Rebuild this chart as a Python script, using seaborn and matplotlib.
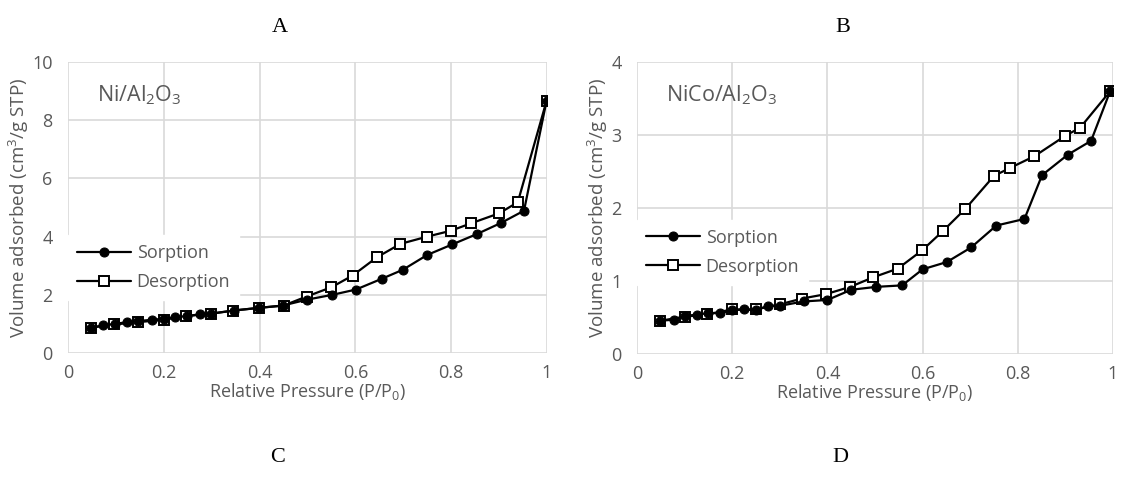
import matplotlib
matplotlib.use("Agg")
import matplotlib.pyplot as plt
import seaborn as sns
import pandas as pd

# ---- data ----
a_sorp_x = [0.047, 0.074, 0.098, 0.123, 0.147, 0.175, 0.200, 0.224, 0.249, 0.275, 0.298, 0.347, 0.398,
            0.448, 0.498, 0.552, 0.601, 0.655, 0.699, 0.750, 0.802, 0.854, 0.904, 0.952, 0.999]
a_sorp_y = [0.87, 0.95, 1.00, 1.06, 1.10, 1.14, 1.18, 1.23, 1.27, 1.33, 1.35, 1.46, 1.55,
            1.63, 1.83, 2.00, 2.18, 2.55, 2.86, 3.37, 3.73, 4.09, 4.47, 4.89, 8.66]
a_des_x = [0.047, 0.097, 0.146, 0.200, 0.247, 0.298, 0.345, 0.398, 0.450, 0.498, 0.550, 0.594, 0.645,
           0.694, 0.750, 0.799, 0.842, 0.900, 0.939, 0.999]
a_des_y = [0.87, 0.98, 1.06, 1.14, 1.27, 1.35, 1.46, 1.55, 1.63, 1.94, 2.26, 2.66, 3.29,
           3.75, 4.00, 4.20, 4.46, 4.80, 5.18, 8.66]

b_sorp_x = [0.048, 0.077, 0.100, 0.126, 0.150, 0.175, 0.200, 0.225, 0.250, 0.275, 0.300, 0.350, 0.400,
            0.450, 0.503, 0.557, 0.600, 0.651, 0.702, 0.755, 0.814, 0.851, 0.905, 0.954, 0.994]
b_sorp_y = [0.455, 0.47, 0.52, 0.54, 0.56, 0.56, 0.60, 0.61, 0.60, 0.66, 0.66, 0.72, 0.74,
            0.88, 0.92, 0.94, 1.16, 1.26, 1.46, 1.76, 1.85, 2.45, 2.73, 2.92, 3.60]
b_des_x = [0.048, 0.100, 0.148, 0.200, 0.249, 0.300, 0.347, 0.397, 0.448, 0.496, 0.548, 0.599, 0.642,
           0.690, 0.750, 0.784, 0.835, 0.900, 0.931, 0.994]
b_des_y = [0.455, 0.51, 0.545, 0.61, 0.61, 0.68, 0.76, 0.82, 0.92, 1.05, 1.17, 1.42, 1.68,
           1.99, 2.44, 2.55, 2.71, 2.99, 3.10, 3.60]

x_ticks = [0, 0.2, 0.4, 0.6, 0.8, 1]
x_tick_labels = ["0", "0.2", "0.4", "0.6", "0.8", "1"]
a_y_ticks = [0, 2, 4, 6, 8, 10]
b_y_ticks = [0, 1, 2, 3, 4]
panel_labels = ["A", "B", "C", "D"]
sample_names = ["Ni/Al$_2$O$_3$", "NiCo/Al$_2$O$_3$"]
series_names = ["Sorption", "Desorption"]

sns.set_theme(style="white")
plt.rcParams['font.family'] = ['Open Sans', 'DejaVu Sans']
plt.rcParams['mathtext.fontset'] = 'custom'
plt.rcParams['mathtext.rm'] = 'Open Sans'
plt.rcParams['mathtext.it'] = 'Open Sans'
TXT = "#595959"
GRID = "#d9d9d9"

fig = plt.figure(figsize=(11.21, 4.84), dpi=100)
ax1 = fig.add_axes([68/1121, 1-353/484, 479/1121, 291/484])
ax2 = fig.add_axes([637/1121, 1-354/484, 476/1121, 292/484])

panels = [
    (ax1, a_sorp_x, a_sorp_y, a_des_x, a_des_y, a_y_ticks, sample_names[0], 0.405),
    (ax2, b_sorp_x, b_sorp_y, b_des_x, b_des_y, b_y_ticks, sample_names[1], 0.46),
]

for ax, sx, sy, dx, dy, yt, name, leg_top in panels:
    ddf = pd.DataFrame({"x": dx, "y": dy})
    sdf = pd.DataFrame({"x": sx, "y": sy})
    sns.lineplot(data=ddf, x="x", y="y", sort=False, ax=ax, color="black", lw=1.6,
                 marker="s", markersize=7.5, markerfacecolor="white", markeredgecolor="black",
                 markeredgewidth=1.4, label=series_names[1], zorder=3)
    sns.lineplot(data=sdf, x="x", y="y", sort=False, ax=ax, color="black", lw=1.6,
                 marker="o", markersize=6.5, markerfacecolor="black", markeredgecolor="black",
                 label=series_names[0], zorder=4)
    ax.set_xlim(0, 1)
    ax.set_ylim(yt[0], yt[-1])
    ax.set_xticks(x_ticks)
    ax.set_xticklabels(x_tick_labels)
    ax.set_yticks(yt)
    ax.grid(True, color=GRID, lw=1.2)
    ax.set_axisbelow(True)
    for s in ax.spines.values():
        s.set_visible(False)
    ax.tick_params(axis="both", labelsize=13, colors=TXT, length=0)
    ax.tick_params(axis="y", pad=11)
    ax.tick_params(axis="x", pad=8)
    ax.set_xlabel("Relative Pressure (P/P$_0$)", fontsize=13, color=TXT, labelpad=-1)
    ax.set_ylabel("Volume adsorbed (cm$^3$/g STP)", fontsize=13.5, color=TXT, labelpad=1)
    ax.text(0.06, 0.885, name, transform=ax.transAxes, fontsize=15.5, color=TXT, va="center")
    handles, labels = ax.get_legend_handles_labels()
    order = [labels.index(series_names[0]), labels.index(series_names[1])]
    leg = ax.legend([handles[i] for i in order], [labels[i] for i in order],
                    loc="upper left", bbox_to_anchor=(0.0, leg_top), frameon=True,
                    fontsize=13, handlelength=3.0, handletextpad=0.3, labelspacing=0.6,
                    borderaxespad=0.0, borderpad=0.5, labelcolor=TXT)
    leg.get_frame().set_facecolor("white")
    leg.get_frame().set_edgecolor("white")
    leg.get_frame().set_alpha(1)
    leg.get_frame().set_boxstyle("square", pad=0)
    leg._legend_box.set_offset  # keep default placement

for lab, (px, py) in zip(panel_labels, [(280, 28), (843, 28), (278, 458), (840, 458)]):
    fig.text(px/1121, 1-py/484, lab, fontsize=16, family="Liberation Serif",
             ha="center", va="center", color="black")

fig.savefig("out.png", dpi=100)
